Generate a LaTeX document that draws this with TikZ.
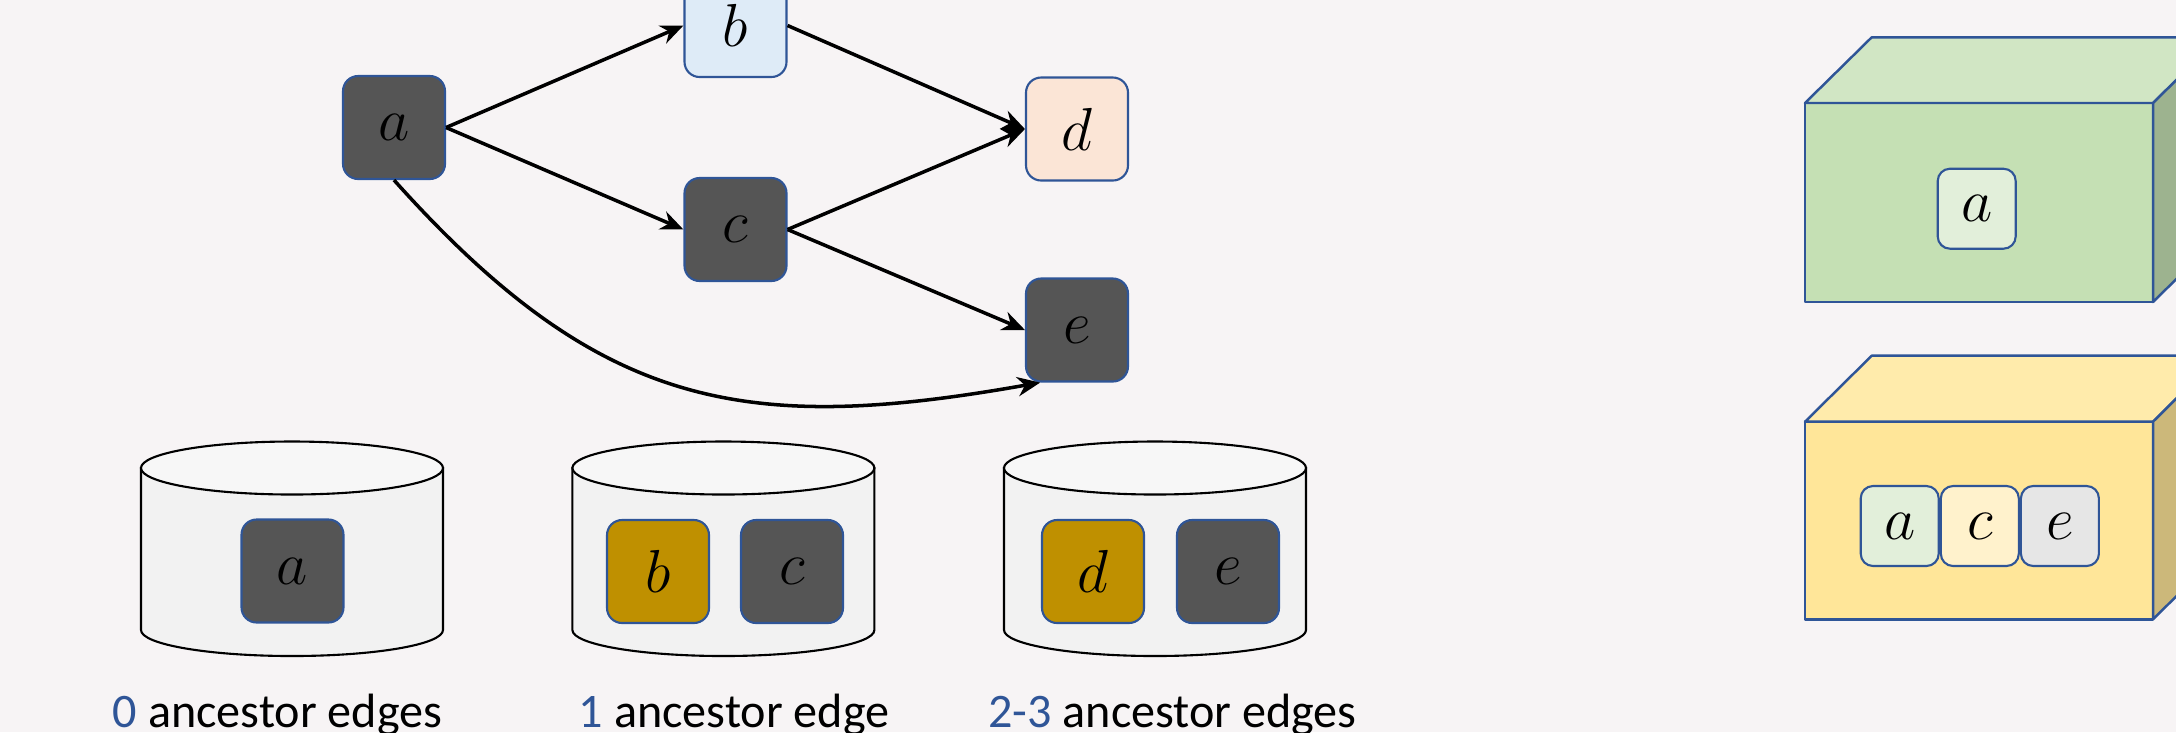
\documentclass[tikz,border=0pt]{standalone}
\usepackage{fontspec}
\setmainfont{Carlito}
\usetikzlibrary{arrows.meta,positioning}

\definecolor{bgpaper}{HTML}{F7F4F5}
\definecolor{nodeblue}{HTML}{2F5597}
\definecolor{darkfill}{HTML}{555555}
\definecolor{goldfill}{HTML}{BF9000}
\definecolor{lightblue}{HTML}{DEEBF7}
\definecolor{lightorange}{HTML}{FBE5D6}
\definecolor{cylfill}{HTML}{F2F2F2}
\definecolor{cyltop}{HTML}{F7F7F7}
\definecolor{greenfront}{HTML}{C5E0B4}
\definecolor{greentop}{HTML}{D1E6C4}
\definecolor{greenside}{HTML}{9DB38F}
\definecolor{greenitem}{HTML}{E2EFDA}
\definecolor{yellowfront}{HTML}{FFE699}
\definecolor{yellowtop}{HTML}{FFEBAB}
\definecolor{yellowside}{HTML}{CCB87A}
\definecolor{yellowitem}{HTML}{FFF2CC}
\definecolor{grayitem}{HTML}{E6E6E6}

\begin{document}
\begin{tikzpicture}[
        >={Stealth[length=6.5pt,width=5.5pt]},
        vtx/.style={
            rectangle,
            rounded corners=4.3pt,
            draw=nodeblue,
            line width=0.6pt,
            minimum width=1.02cm,
            minimum height=1.03cm,
            inner sep=0pt,
            font=\fontsize{16}{19}\selectfont
        },
        item/.style={
            vtx,
            rounded corners=3.5pt,
            minimum width=0.78cm,
            minimum height=0.80cm
        },
        ptr/.style={
            ->,
            line width=1pt,
            draw=black
        },
        cyl/.style={
            draw=black,
            line width=0.6pt
        },
        cube/.style={
            draw=nodeblue,
            line width=0.7pt,
            line join=round
        },
        lbl/.style={
            anchor=base,
            font=\fontsize{13.7}{16}\selectfont
        }
    ]

    \fill[bgpaper] (0,0) rectangle (21.76,-7.32);
    \useasboundingbox (0,0) rectangle (21.76,-7.32);

    % graph
    \node[vtx, fill=darkfill]    (a) at (3.94,-1.275)  {$a$};
    \node[vtx, fill=lightblue]   (b) at (7.355,-0.255) {$b$};
    \node[vtx, fill=darkfill]    (c) at (7.355,-2.295) {$c$};
    \node[vtx, fill=lightorange] (d) at (10.77,-1.29)  {$d$};
    \node[vtx, fill=darkfill]    (e) at (10.77,-3.30)  {$e$};

    \draw[ptr] (a.east) -- (b.west);
    \draw[ptr] (a.east) -- (c.west);
    \draw[ptr] (b.east) -- (d.west);
    \draw[ptr] (c.east) -- (d.west);
    \draw[ptr] (c.east) -- (e.west);
    \draw[ptr] (a.south) .. controls (6.0,-4.1) and (7.45,-4.35) .. (e.235);

    % buckets
    \foreach \cx in {2.92, 7.234, 11.55} {
        \draw[cyl, fill=cylfill] (\cx-1.51,-4.68) -- (\cx-1.51,-6.30)
            arc[start angle=180, end angle=360, x radius=1.51, y radius=0.26]
            -- (\cx+1.51,-4.68) -- cycle;
        \draw[cyl, fill=cyltop] (\cx,-4.68) ellipse[x radius=1.51, y radius=0.265];
    }

    \node[vtx, fill=darkfill] (a1) at (2.925,-5.71)  {$a$};
    \node[vtx, fill=goldfill] (b2) at (6.58,-5.715)  {$b$};
    \node[vtx, fill=darkfill] (c2) at (7.92,-5.715)  {$c$};
    \node[vtx, fill=goldfill] (d3) at (10.93,-5.715) {$d$};
    \node[vtx, fill=darkfill] (e3) at (12.28,-5.715) {$e$};

    \node[lbl] (l0) at (2.775,-7.27)  {\textcolor{nodeblue}{0} ancestor edges};
    \node[lbl] (l1) at (7.34,-7.27)   {\textcolor{nodeblue}{1} ancestor edge};
    \node[lbl] (l2) at (11.725,-7.27) {\textcolor{nodeblue}{2-3} ancestor edges};

    % boxes
    \fill[greenfront, cube] (18.05,-1.03) rectangle (21.53,-3.02);
    \fill[greentop, cube] (18.05,-1.03) -- (18.717,-0.373) -- (22.197,-0.373) -- (21.53,-1.03) -- cycle;
    \fill[greenside, cube] (21.53,-1.03) -- (22.197,-0.373) -- (22.197,-2.363) -- (21.53,-3.02) -- cycle;
    \node[item, fill=greenitem] (ga) at (19.767,-2.087) {$a$};

    \fill[yellowfront, cube] (18.05,-4.217) rectangle (21.53,-6.193);
    \fill[yellowtop, cube] (18.05,-4.217) -- (18.717,-3.557) -- (22.197,-3.557) -- (21.53,-4.217) -- cycle;
    \fill[yellowside, cube] (21.53,-4.217) -- (22.197,-3.557) -- (22.197,-5.533) -- (21.53,-6.193) -- cycle;
    \node[item, fill=greenitem]  (ya) at (18.997,-5.26) {$a$};
    \node[item, fill=yellowitem, right=0pt of ya] (yc) {$c$};
    \node[item, fill=grayitem, right=0pt of yc]   (ye) {$e$};

\end{tikzpicture}
\end{document}
